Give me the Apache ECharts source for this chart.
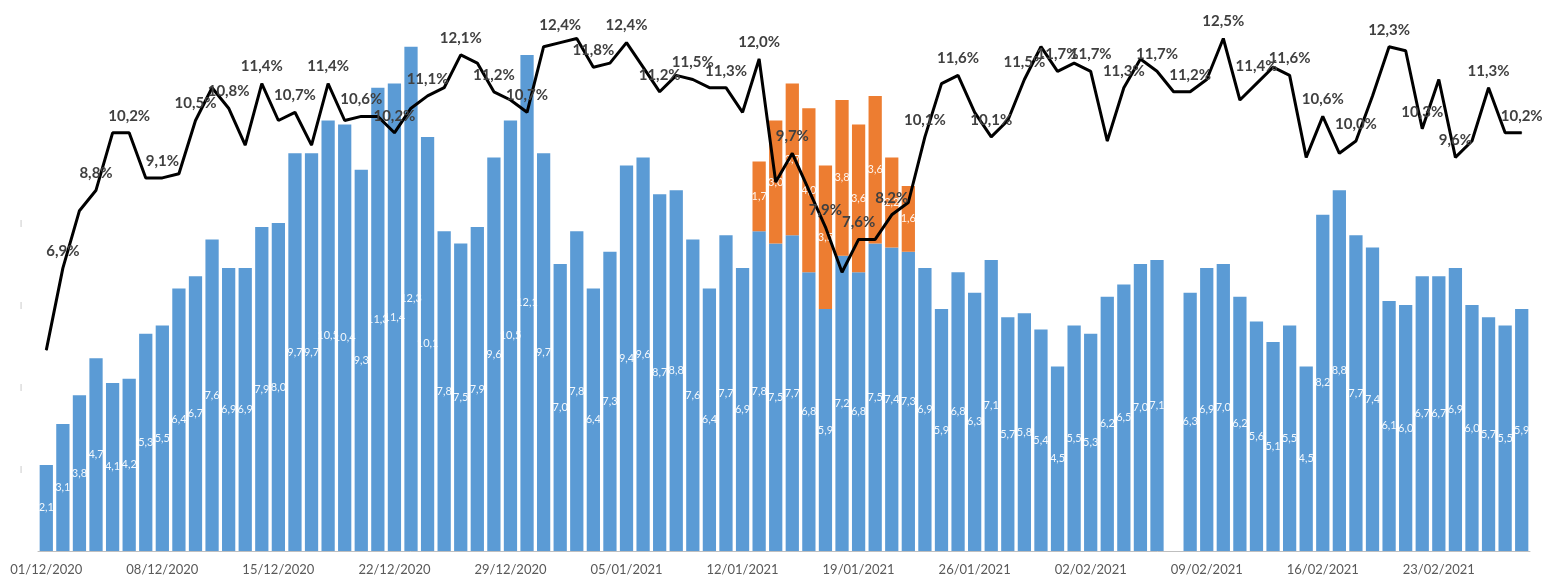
<!DOCTYPE html>
<html>
<head>
<meta charset="utf-8">
<script src="https://cdn.jsdelivr.net/npm/echarts@6/dist/echarts.min.js"></script>
<style>
  html, body { margin: 0; padding: 0; background: #fff; }
  #chart { width: 1545px; height: 580px; }
</style>
</head>
<body>
<div id="chart"></div>
<script>
// daily categories, 01/12/2020 - 28/02/2021
const categories = [
  '01/12/2020','02/12/2020','03/12/2020','04/12/2020','05/12/2020','06/12/2020','07/12/2020','08/12/2020','09/12/2020','10/12/2020',
  '11/12/2020','12/12/2020','13/12/2020','14/12/2020','15/12/2020','16/12/2020','17/12/2020','18/12/2020','19/12/2020','20/12/2020',
  '21/12/2020','22/12/2020','23/12/2020','24/12/2020','25/12/2020','26/12/2020','27/12/2020','28/12/2020','29/12/2020','30/12/2020',
  '31/12/2020','01/01/2021','02/01/2021','03/01/2021','04/01/2021','05/01/2021','06/01/2021','07/01/2021','08/01/2021','09/01/2021',
  '10/01/2021','11/01/2021','12/01/2021','13/01/2021','14/01/2021','15/01/2021','16/01/2021','17/01/2021','18/01/2021','19/01/2021',
  '20/01/2021','21/01/2021','22/01/2021','23/01/2021','24/01/2021','25/01/2021','26/01/2021','27/01/2021','28/01/2021','29/01/2021',
  '30/01/2021','31/01/2021','01/02/2021','02/02/2021','03/02/2021','04/02/2021','05/02/2021','06/02/2021','07/02/2021','08/02/2021',
  '09/02/2021','10/02/2021','11/02/2021','12/02/2021','13/02/2021','14/02/2021','15/02/2021','16/02/2021','17/02/2021','18/02/2021',
  '19/02/2021','20/02/2021','21/02/2021','22/02/2021','23/02/2021','24/02/2021','25/02/2021','26/02/2021','27/02/2021','28/02/2021'
]

const blueValues = [
  2.1, 3.1, 3.8, 4.7, 4.1, 4.2, 5.3, 5.5, 6.4, 6.7,
  7.6, 6.9, 6.9, 7.9, 8.0, 9.7, 9.7, 10.5, 10.4, 9.3,
  11.3, 11.4, 12.3, 10.1, 7.8, 7.5, 7.9, 9.6, 10.5, 12.1,
  9.7, 7.0, 7.8, 6.4, 7.3, 9.4, 9.6, 8.7, 8.8, 7.6,
  6.4, 7.7, 6.9, 7.8, 7.5, 7.7, 6.8, 5.9, 7.2, 6.8,
  7.5, 7.4, 7.3, 6.9, 5.9, 6.8, 6.3, 7.1, 5.7, 5.8,
  5.4, 4.5, 5.5, 5.3, 6.2, 6.5, 7.0, 7.1, null, 6.3,
  6.9, 7.0, 6.2, 5.6, 5.1, 5.5, 4.5, 8.2, 8.8, 7.7,
  7.4, 6.1, 6.0, 6.7, 6.7, 6.9, 6.0, 5.7, 5.5, 5.9
]

const orangeValues = [
  null, null, null, null, null, null, null, null, null, null,
  null, null, null, null, null, null, null, null, null, null,
  null, null, null, null, null, null, null, null, null, null,
  null, null, null, null, null, null, null, null, null, null,
  null, null, null, 1.7, 3.0, 3.7, 4.0, 3.5, 3.8, 3.6,
  3.6, 2.2, 1.6, null, null, null, null, null, null, null,
  null, null, null, null, null, null, null, null, null, null,
  null, null, null, null, null, null, null, null, null, null,
  null, null, null, null, null, null, null, null, null, null
]

const rateValues = [
  4.9, 6.9, 8.3, 8.8, 10.2, 10.2, 9.1, 9.1, 9.2, 10.5,
  11.3, 10.8, 9.9, 11.4, 10.5, 10.7, 9.9, 11.4, 10.5, 10.6,
  10.6, 10.2, 10.8, 11.1, 11.3, 12.1, 11.9, 11.2, 11.0, 10.7,
  12.3, 12.4, 12.5, 11.8, 11.9, 12.4, 11.8, 11.2, 11.6, 11.5,
  11.3, 11.3, 10.7, 12.0, 9.0, 9.7, 8.8, 7.9, 6.8, 7.6,
  7.6, 8.2, 8.5, 10.1, 11.4, 11.6, 10.7, 10.1, 10.5, 11.5,
  12.3, 11.7, 11.9, 11.7, 10.0, 11.3, 12.0, 11.7, 11.2, 11.2,
  11.5, 12.5, 11.0, 11.4, 11.8, 11.6, 9.6, 10.6, 9.7, 10.0,
  11.1, 12.3, 12.2, 10.3, 11.5, 9.6, 10.0, 11.3, 10.2, 10.2
]

const font = 'Lato, "Liberation Sans", sans-serif'

function comma(v) {
  return v.toFixed(1).replace('.', ',')
}

const barLabel = {
  show: true,
  position: 'inside',
  color: 'rgba(255,255,255,0.92)',
  fontFamily: font,
  fontSize: 11,
  formatter: p => (p.value == null ? '' : comma(p.value))
}

const myChart = echarts.init(document.getElementById('chart'))

myChart.setOption({
  animation: false,
  grid: {
    left: 38,
    right: 15,
    top: 18,
    bottom: 29
  },
  xAxis: {
    type: 'category',
    data: categories,
    axisLine: { lineStyle: { color: '#bfbfbf', width: 1 } },
    axisTick: {
      interval: 6,
      length: 5,
      lineStyle: { color: '#bfbfbf' }
    },
    axisLabel: {
      interval: 6,
      margin: 12,
      color: '#595959',
      fontFamily: font,
      fontSize: 13
    }
  },
  yAxis: [
    {
      type: 'value',
      min: 0,
      max: 13,
      interval: 2,
      axisLine: { show: false },
      axisTick: { show: false },
      splitLine: { show: false },
      axisLabel: {
        margin: 16,
        color: '#b5b5b5',
        fontSize: 8,
        formatter: v => (v > 0 && v <= 8 ? '|' : '')
      }
    },
    {
      type: 'value',
      min: 0,
      max: 13,
      show: false
    }
  ],
  series: [
    {
      type: 'bar',
      stack: 'total',
      data: blueValues,
      barCategoryGap: '20%',
      itemStyle: { color: '#5B9BD5' },
      label: barLabel
    },
    {
      type: 'bar',
      stack: 'total',
      data: orangeValues,
      barCategoryGap: '20%',
      itemStyle: { color: '#ED7D31' },
      label: barLabel
    },
    {
      type: 'line',
      yAxisIndex: 1,
      data: rateValues,
      z: 10,
      symbol: 'circle',
      symbolSize: 1,
      showSymbol: true,
      itemStyle: { color: '#000' },
      lineStyle: { color: '#000', width: 3 },
      label: {
        show: true,
        position: 'top',
        distance: 9,
        color: '#404040',
        fontFamily: font,
        fontSize: 15,
        fontWeight: 'bold',
        formatter: p => (p.dataIndex % 2 === 1 ? comma(p.value) + '%' : '')
      }
    }
  ]
})

window.addEventListener('resize', () => {
  myChart.resize()
})
</script>
</body>
</html>
